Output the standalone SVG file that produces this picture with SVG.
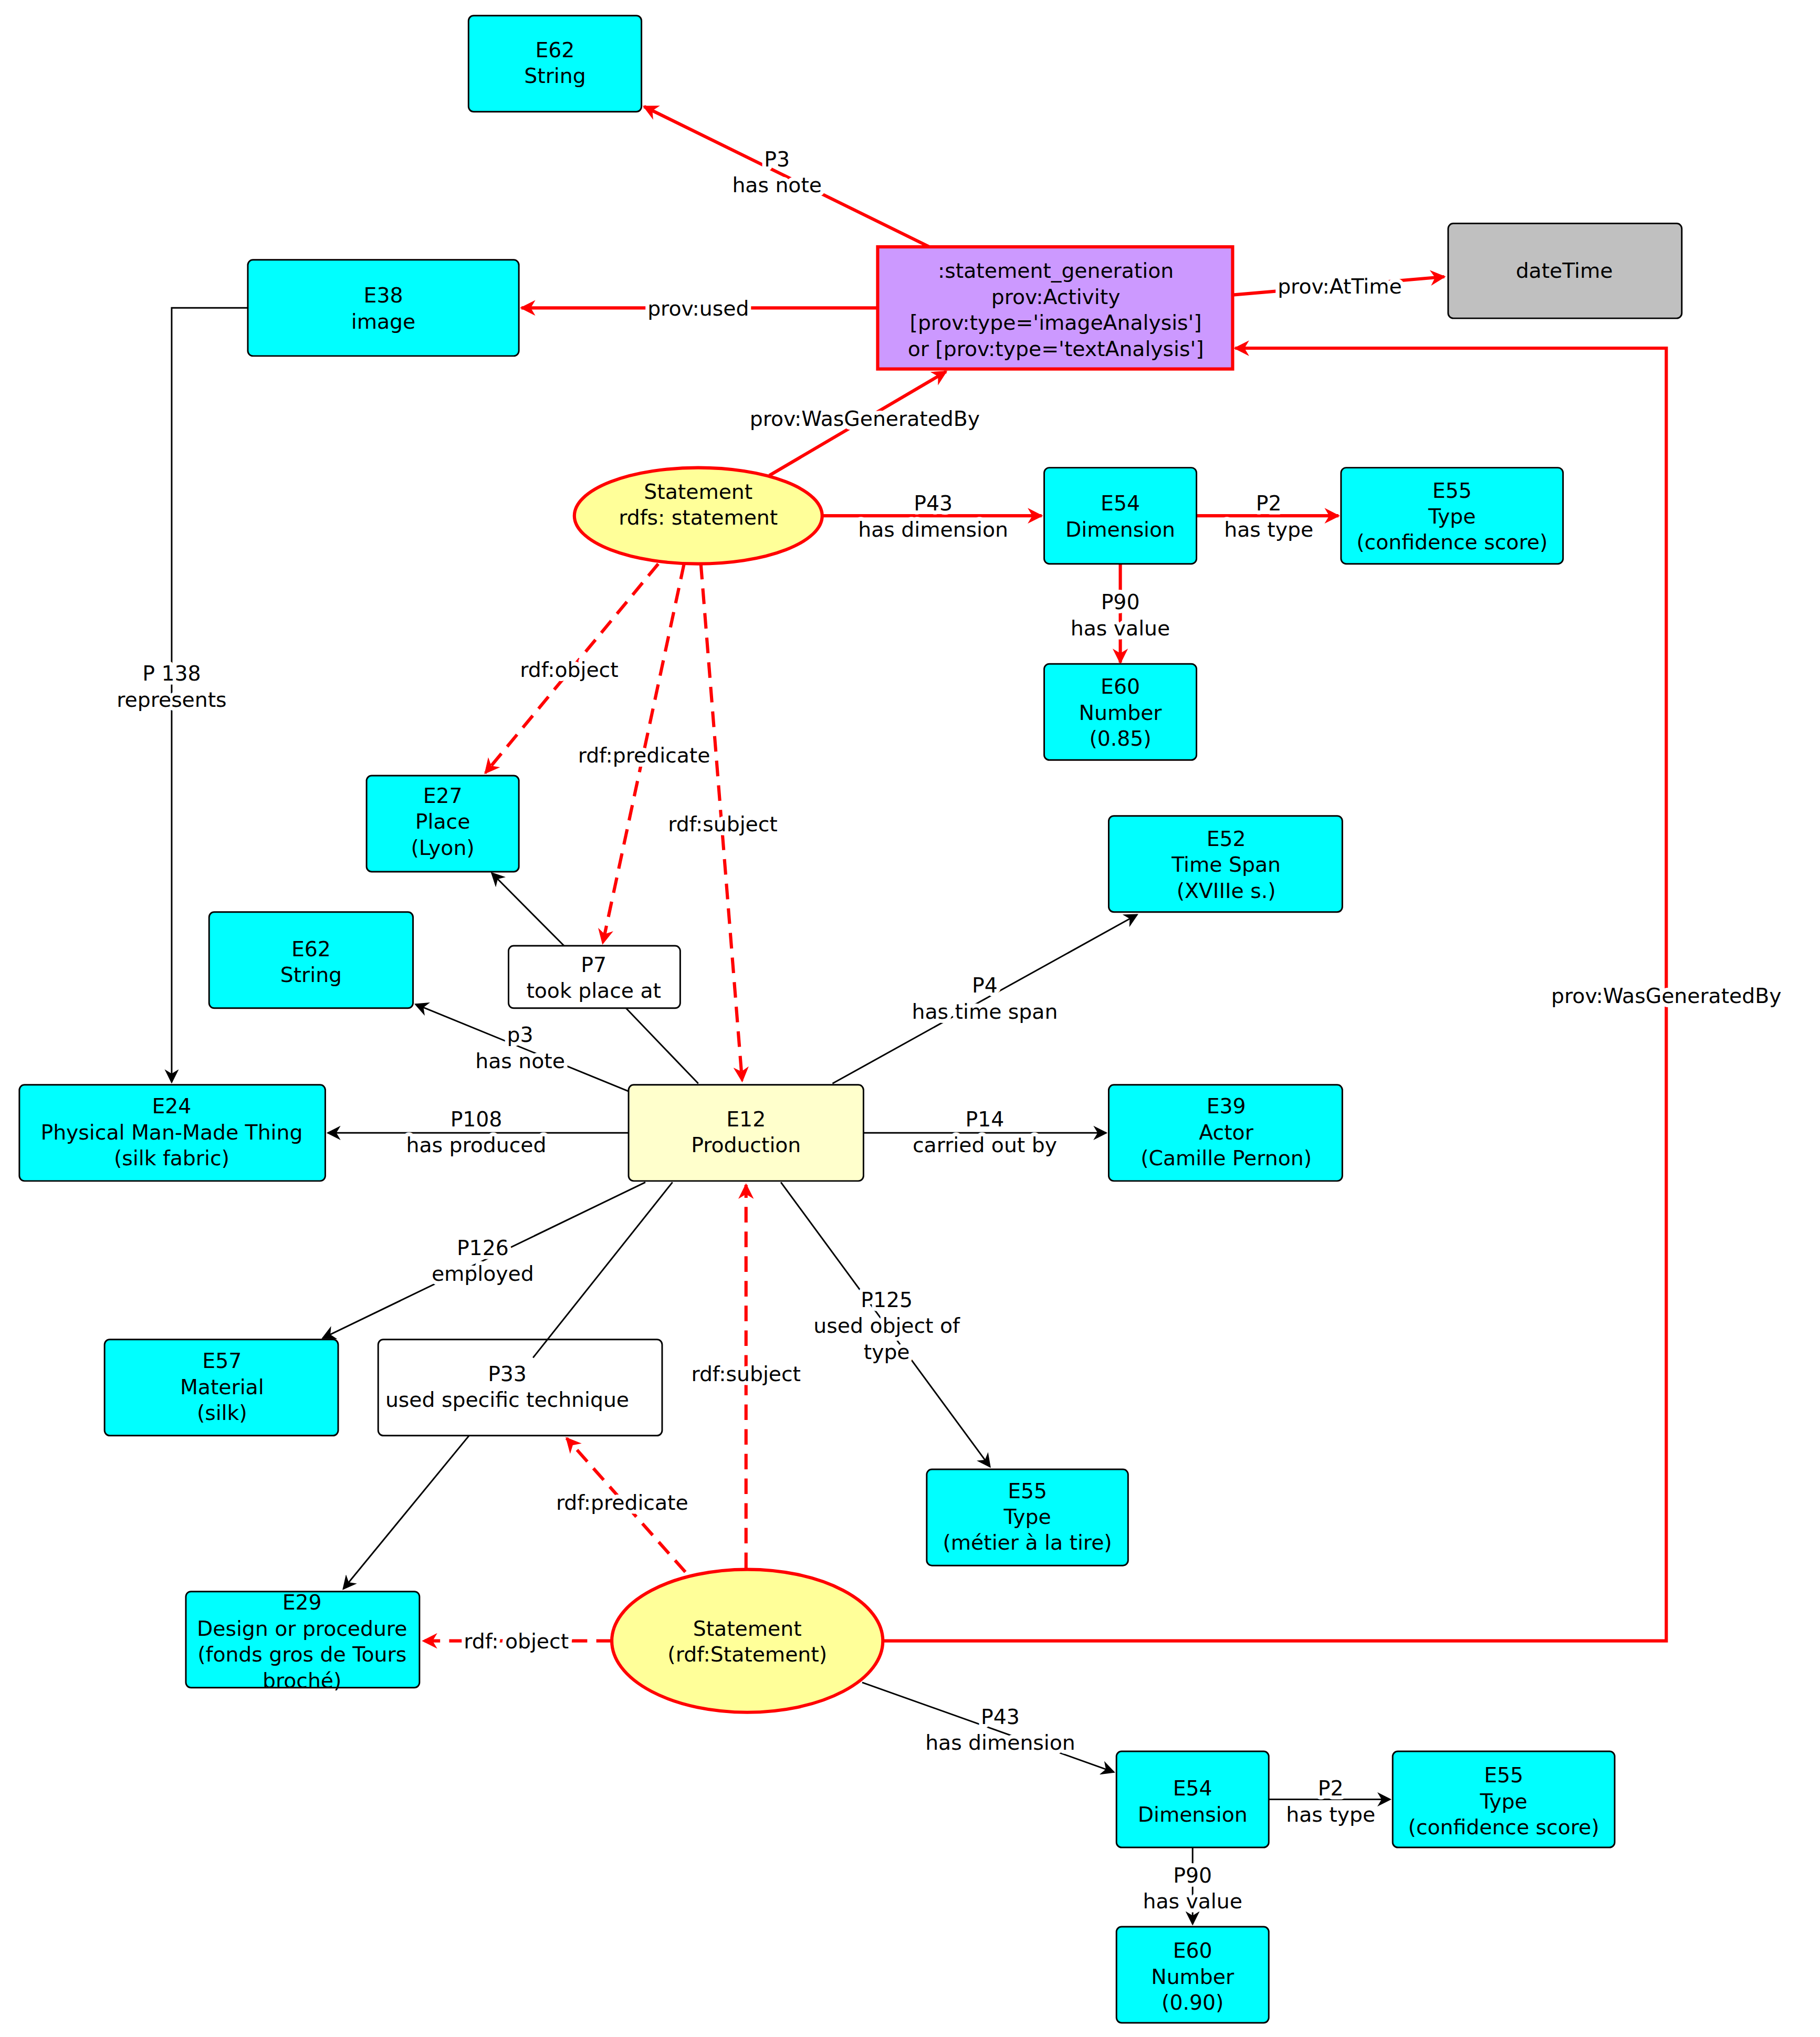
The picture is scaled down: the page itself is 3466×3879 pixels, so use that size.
<svg xmlns="http://www.w3.org/2000/svg" width="3466" height="3879" viewBox="0 0 3466 3879">
<defs>
<marker id="ar" viewBox="0 0 10 10" refX="9" refY="5" markerWidth="12" markerHeight="12" markerUnits="userSpaceOnUse" orient="auto"><path d="M0,0 L10,5 L0,10 L3,5 z" fill="#ff0000"/></marker>
<marker id="ab" viewBox="0 0 10 10" refX="9" refY="5" markerWidth="11" markerHeight="11" markerUnits="userSpaceOnUse" orient="auto"><path d="M0,0 L10,5 L0,10 L3,5 z" fill="#000"/></marker>
</defs>
<style>
text{font-family:"DejaVu Sans","Liberation Sans",sans-serif;font-size:16px;text-anchor:middle;fill:#000}
.lbl{paint-order:stroke;stroke:#fff;stroke-width:6px;stroke-linejoin:round}
.c{fill:#00ffff;stroke:#000;stroke-width:1.2}
.w{fill:#fff;stroke:#000;stroke-width:1.2}
.r{fill:none;stroke:#ff0000;stroke-width:2.5}
.rd{fill:none;stroke:#ff0000;stroke-width:2.5;stroke-dasharray:12,7}
.b{fill:none;stroke:#000;stroke-width:1.2}
</style>
<rect width="3466" height="3879" fill="#fff"/>
<g transform="scale(2.458,2.474)">
<g id="connectors">
<line class="r" x1="720" y1="190" x2="499" y2="82" marker-end="url(#ar)"/>
<line class="r" x1="680" y1="237" x2="404" y2="237" marker-end="url(#ar)"/>
<line class="r" x1="955" y1="227" x2="1119" y2="213" marker-end="url(#ar)"/>
<line class="r" x1="596" y1="366" x2="733" y2="286" marker-end="url(#ar)"/>
<polyline class="r" points="684,1263 1291,1263 1291,268 957,268" marker-end="url(#ar)"/>
<line class="r" x1="637" y1="397" x2="807" y2="397" marker-end="url(#ar)"/>
<line class="r" x1="927" y1="397" x2="1037" y2="397" marker-end="url(#ar)"/>
<line class="r" x1="868" y1="434" x2="868" y2="510" marker-end="url(#ar)"/>
<polyline class="b" points="192,237 133,237 133,833" marker-end="url(#ab)"/>
<line class="rd" x1="510" y1="434" x2="376" y2="595" marker-end="url(#ar)"/>
<line class="rd" x1="530" y1="434" x2="467" y2="726" marker-end="url(#ar)"/>
<line class="rd" x1="543" y1="434" x2="575" y2="832" marker-end="url(#ar)"/>
<line class="b" x1="437" y1="728" x2="381" y2="672" marker-end="url(#ab)"/>
<line class="b" x1="541" y1="834" x2="485" y2="776"/>
<line class="b" x1="487" y1="840" x2="322" y2="773" marker-end="url(#ab)"/>
<line class="b" x1="645" y1="834" x2="881" y2="704" marker-end="url(#ab)"/>
<line class="b" x1="487" y1="872" x2="254" y2="872" marker-end="url(#ab)"/>
<line class="b" x1="669" y1="872" x2="857" y2="872" marker-end="url(#ab)"/>
<line class="b" x1="500" y1="910" x2="250" y2="1030" marker-end="url(#ab)"/>
<line class="b" x1="605" y1="910" x2="767" y2="1129" marker-end="url(#ab)"/>
<line class="rd" x1="578" y1="1207" x2="578" y2="912" marker-end="url(#ar)"/>
<line class="rd" x1="531" y1="1210" x2="439" y2="1107" marker-end="url(#ar)"/>
<line class="rd" x1="474" y1="1263" x2="328" y2="1263" marker-end="url(#ar)"/>
<line class="b" x1="668" y1="1295" x2="863" y2="1364" marker-end="url(#ab)"/>
<line class="b" x1="983" y1="1385" x2="1077" y2="1385" marker-end="url(#ab)"/>
<line class="b" x1="924" y1="1422" x2="924" y2="1481" marker-end="url(#ab)"/>
<line class="b" x1="375" y1="1091" x2="266" y2="1223" marker-end="url(#ab)"/>
</g>
<g id="n_e62a"><rect class="c" x="363" y="12" width="134" height="74" rx="4"/><text x="430" y="44">E62</text><text x="430" y="64">String</text></g>
<g id="n_e38"><rect class="c" x="192" y="200" width="210" height="74" rx="4"/><text x="297" y="233">E38</text><text x="297" y="253">image</text></g>
<g id="n_act"><rect x="680" y="190" width="275" height="94" fill="#cc99ff" stroke="#ff0000" stroke-width="2.5"/><text x="818" y="214">:statement_generation</text><text x="818" y="234">prov:Activity</text><text x="818" y="254">[prov:type='imageAnalysis']</text><text x="818" y="274">or [prov:type='textAnalysis']</text></g>
<g id="n_dt"><rect x="1122" y="172" width="181" height="73" rx="4" fill="#c0c0c0" stroke="#000" stroke-width="1.2"/><text x="1212" y="214">dateTime</text></g>
<g id="n_st1"><ellipse cx="541" cy="397" rx="96" ry="37" fill="#ffff99" stroke="#ff0000" stroke-width="2.5"/><text x="541" y="384">Statement</text><text x="541" y="404">rdfs: statement</text></g>
<g id="n_e54a"><rect class="c" x="809" y="360" width="118" height="74" rx="4"/><text x="868" y="393">E54</text><text x="868" y="413">Dimension</text></g>
<g id="n_e55a"><rect class="c" x="1039" y="360" width="172" height="74" rx="4"/><text x="1125" y="383">E55</text><text x="1125" y="403">Type</text><text x="1125" y="423">(confidence score)</text></g>
<g id="n_e60a"><rect class="c" x="809" y="511" width="118" height="74" rx="4"/><text x="868" y="534">E60</text><text x="868" y="554">Number</text><text x="868" y="574">(0.85)</text></g>
<g id="n_e27"><rect class="c" x="284" y="597" width="118" height="74" rx="4"/><text x="343" y="618">E27</text><text x="343" y="638">Place</text><text x="343" y="658">(Lyon)</text></g>
<g id="n_e52"><rect class="c" x="859" y="628" width="181" height="74" rx="4"/><text x="950" y="651">E52</text><text x="950" y="671">Time Span</text><text x="950" y="691">(XVIIIe s.)</text></g>
<g id="n_e62b"><rect class="c" x="162" y="702" width="158" height="74" rx="4"/><text x="241" y="736">E62</text><text x="241" y="756">String</text></g>
<g id="n_p7"><rect class="w" x="394" y="728" width="133" height="48" rx="4"/><text x="460" y="748">P7</text><text x="460" y="768">took place at</text></g>
<g id="n_e24"><rect class="c" x="15" y="835" width="237" height="74" rx="4"/><text x="133" y="857">E24</text><text x="133" y="877">Physical Man-Made Thing</text><text x="133" y="897">(silk fabric)</text></g>
<g id="n_e12"><rect x="487" y="835" width="182" height="74" rx="4" fill="#ffffcc" stroke="#000" stroke-width="1.2"/><text x="578" y="867">E12</text><text x="578" y="887">Production</text></g>
<g id="n_e39"><rect class="c" x="859" y="835" width="181" height="74" rx="4"/><text x="950" y="857">E39</text><text x="950" y="877">Actor</text><text x="950" y="897">(Camille Pernon)</text></g>
<g id="n_e57"><rect class="c" x="81" y="1031" width="181" height="74" rx="4"/><text x="172" y="1053">E57</text><text x="172" y="1073">Material</text><text x="172" y="1093">(silk)</text></g>
<g id="n_p33"><rect class="w" x="293" y="1031" width="220" height="74" rx="4"/><line class="b" x1="521" y1="910" x2="413" y2="1045"/><text x="393" y="1063">P33</text><text x="393" y="1083">used specific technique</text></g>
<g id="n_e55b"><rect class="c" x="718" y="1131" width="156" height="74" rx="4"/><text x="796" y="1153">E55</text><text x="796" y="1173">Type</text><text x="796" y="1193">(métier à la tire)</text></g>
<g id="n_e29"><rect class="c" x="144" y="1225" width="181" height="74" rx="4"/><text x="234" y="1239">E29</text><text x="234" y="1259">Design or procedure</text><text x="234" y="1279">(fonds gros de Tours</text><text x="234" y="1299">broché)</text></g>
<g id="n_st2"><ellipse cx="579" cy="1263" rx="105" ry="55" fill="#ffff99" stroke="#ff0000" stroke-width="2.5"/><text x="579" y="1259">Statement</text><text x="579" y="1279">(rdf:Statement)</text></g>
<g id="n_e54b"><rect class="c" x="865" y="1348" width="118" height="74" rx="4"/><text x="924" y="1382">E54</text><text x="924" y="1402">Dimension</text></g>
<g id="n_e55c"><rect class="c" x="1079" y="1348" width="172" height="74" rx="4"/><text x="1165" y="1372">E55</text><text x="1165" y="1392">Type</text><text x="1165" y="1412">(confidence score)</text></g>
<g id="n_e60b"><rect class="c" x="865" y="1483" width="118" height="74" rx="4"/><text x="924" y="1507">E60</text><text x="924" y="1527">Number</text><text x="924" y="1547">(0.90)</text></g>
<g id="labels">
<text class="lbl" x="602" y="128">P3</text><text class="lbl" x="602" y="148">has note</text>
<text class="lbl" x="541" y="243">prov:used</text>
<text class="lbl" x="1038" y="226">prov:AtTime</text>
<text class="lbl" x="670" y="328">prov:WasGeneratedBy</text>
<text class="lbl" x="1291" y="772">prov:WasGeneratedBy</text>
<text class="lbl" x="723" y="393">P43</text><text class="lbl" x="723" y="413">has dimension</text>
<text class="lbl" x="983" y="393">P2</text><text class="lbl" x="983" y="413">has type</text>
<text class="lbl" x="868" y="469">P90</text><text class="lbl" x="868" y="489">has value</text>
<text class="lbl" x="133" y="524">P 138</text><text class="lbl" x="133" y="544">represents</text>
<text class="lbl" x="441" y="521">rdf:object</text>
<text class="lbl" x="499" y="587">rdf:predicate</text>
<text class="lbl" x="560" y="640">rdf:subject</text>
<text class="lbl" x="403" y="802">p3</text><text class="lbl" x="403" y="822">has note</text>
<text class="lbl" x="763" y="764">P4</text><text class="lbl" x="763" y="784">has time span</text>
<text class="lbl" x="369" y="867">P108</text><text class="lbl" x="369" y="887">has produced</text>
<text class="lbl" x="763" y="867">P14</text><text class="lbl" x="763" y="887">carried out by</text>
<text class="lbl" x="374" y="966">P126</text><text class="lbl" x="374" y="986">employed</text>
<text class="lbl" x="687" y="1006">P125</text><text class="lbl" x="687" y="1026">used object of</text><text class="lbl" x="687" y="1046">type</text>
<text class="lbl" x="578" y="1063">rdf:subject</text>
<text class="lbl" x="482" y="1162">rdf:predicate</text>
<text class="lbl" x="400" y="1269">rdf: object</text>
<text class="lbl" x="775" y="1327">P43</text><text class="lbl" x="775" y="1347">has dimension</text>
<text class="lbl" x="1031" y="1382">P2</text><text class="lbl" x="1031" y="1402">has type</text>
<text class="lbl" x="924" y="1449">P90</text><text class="lbl" x="924" y="1469">has value</text>
</g>
</g>
</svg>
